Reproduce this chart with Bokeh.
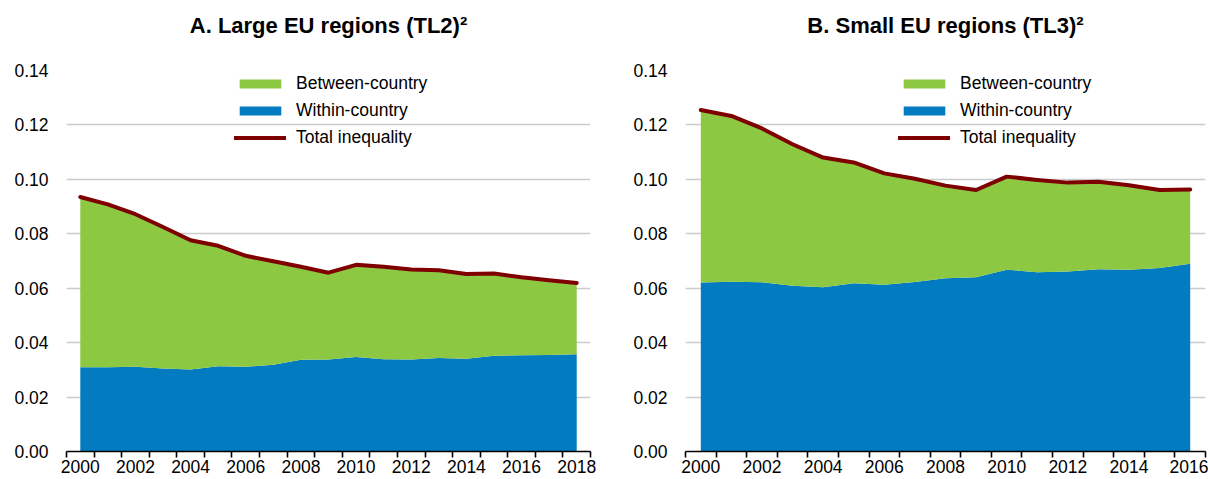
from bokeh.plotting import figure
from bokeh.models import FixedTicker, Legend, LegendItem, PrintfTickFormatter, Range1d
from bokeh.layouts import row
from bokeh.embed import file_html
from bokeh.resources import INLINE

# ---------------- data ----------------
years_a = list(range(2000, 2019))
within_a = [0.0310, 0.0310, 0.0311, 0.0305, 0.0301, 0.0313, 0.0311, 0.0319, 0.0337, 0.0338,
            0.0347, 0.0339, 0.0338, 0.0344, 0.0341, 0.0352, 0.0354, 0.0355, 0.0357]
total_a = [0.0935, 0.0908, 0.0872, 0.0825, 0.0776, 0.0756, 0.0719, 0.0699, 0.0679, 0.0657,
           0.0686, 0.0679, 0.0669, 0.0666, 0.0652, 0.0654, 0.0640, 0.0629, 0.0619]

years_b = list(range(2000, 2017))
within_b = [0.0621, 0.0624, 0.0622, 0.0609, 0.0604, 0.0618, 0.0613, 0.0623, 0.0637, 0.0640,
            0.0668, 0.0659, 0.0661, 0.0670, 0.0668, 0.0674, 0.0690]
total_b = [0.1255, 0.1233, 0.1187, 0.1129, 0.1080, 0.1062, 0.1022, 0.1002, 0.0977, 0.0961,
           0.1010, 0.0998, 0.0988, 0.0991, 0.0978, 0.0961, 0.0963]

y_ticks = [0.00, 0.02, 0.04, 0.06, 0.08, 0.10, 0.12, 0.14]
x_labels_a = [2000, 2002, 2004, 2006, 2008, 2010, 2012, 2014, 2016, 2018]
x_labels_b = [2000, 2002, 2004, 2006, 2008, 2010, 2012, 2014, 2016]
titles = ["A. Large EU regions (TL2)\u00b2", "B. Small EU regions (TL3)\u00b2"]
series_names = ["Between-country", "Within-country", "Total inequality"]

GREEN = "#8CC841"
BLUE = "#037BC1"
RED = "#7F0000"
FONT = "Liberation Sans"


def make_panel(years, within, total, title, label_years, frame_width, border_left,
               border_right, legend_x):
    frame_h = 381
    p = figure(output_backend="svg", toolbar_location=None,
               frame_width=frame_width, frame_height=frame_h,
               min_border_left=border_left, min_border_right=border_right,
               min_border_top=70, min_border_bottom=27,
               x_range=Range1d(years[0] - 0.5, years[-1] + 0.5),
               y_range=Range1d(0, 0.14))
    p.outline_line_color = None
    p.background_fill_color = "white"

    # title (a blank second line lifts the title text away from the frame)
    p.title.text = title + "\n "
    p.title.text_font = FONT
    p.title.text_font_style = "bold"
    p.title.text_font_size = "22px"
    p.title.align = "center"
    p.title.text_color = "#000000"
    p.title.standoff = 16

    # glyphs
    blue = p.varea(x=years, y1=[0] * len(years), y2=within, fill_color=BLUE)
    green = p.varea(x=years, y1=within, y2=total, fill_color=GREEN)
    line = p.line(x=years, y=total, line_color=RED, line_width=4,
                  line_cap="round", line_join="round")

    # y axis
    p.yaxis.ticker = FixedTicker(ticks=y_ticks)
    p.yaxis.formatter = PrintfTickFormatter(format="%.2f")
    p.yaxis.axis_line_color = None
    p.yaxis.major_tick_line_color = None
    p.yaxis.minor_tick_line_color = None
    p.yaxis.major_tick_out = 0
    p.yaxis.major_label_standoff = 18
    p.yaxis.major_label_text_font = FONT
    p.yaxis.major_label_text_font_size = "17.5px"
    p.yaxis.major_label_text_color = "#000000"

    # x axis (category style: tick marks between years)
    boundaries = [y - 0.5 for y in years] + [years[-1] + 0.5]
    p.xaxis.ticker = FixedTicker(ticks=label_years, minor_ticks=boundaries)
    p.xaxis.axis_line_color = "black"
    p.xaxis.axis_line_width = 1.6
    p.xaxis.major_tick_line_color = None
    p.xaxis.major_tick_out = 6
    p.xaxis.major_tick_in = 0
    p.xaxis.minor_tick_line_color = "black"
    p.xaxis.minor_tick_line_width = 1.6
    p.xaxis.minor_tick_out = 6
    p.xaxis.minor_tick_in = 0
    p.xaxis.major_label_standoff = 2
    p.xaxis.major_label_text_font = FONT
    p.xaxis.major_label_text_font_size = "17.5px"
    p.xaxis.major_label_text_color = "#000000"

    # grid
    p.xgrid.grid_line_color = None
    p.ygrid.ticker = FixedTicker(ticks=y_ticks)
    p.ygrid.grid_line_color = "#CCCCCC"
    p.ygrid.grid_line_width = 1.5

    legend = Legend(items=[
        LegendItem(label=series_names[0], renderers=[green]),
        LegendItem(label=series_names[1], renderers=[blue]),
        LegendItem(label=series_names[2], renderers=[line]),
    ], location=(legend_x, frame_h - 81))
    legend.background_fill_alpha = 0
    legend.border_line_alpha = 0
    legend.padding = 0
    legend.margin = 0
    legend.spacing = 0
    legend.glyph_width = 52
    legend.glyph_height = 11
    legend.label_height = 27
    legend.label_standoff = 10
    legend.label_text_font = FONT
    legend.label_text_font_size = "17.5px"
    legend.label_text_color = "#000000"
    p.add_layout(legend)
    return p


pa = make_panel(years_a, within_a, total_a, titles[0], x_labels_a, 524, 66, 10, 168)
pb = make_panel(years_b, within_b, total_b, titles[1], x_labels_b, 520, 85, 3, 213)

layout = row(pa, pb)
open("out.html", "w").write(file_html(layout, INLINE))
